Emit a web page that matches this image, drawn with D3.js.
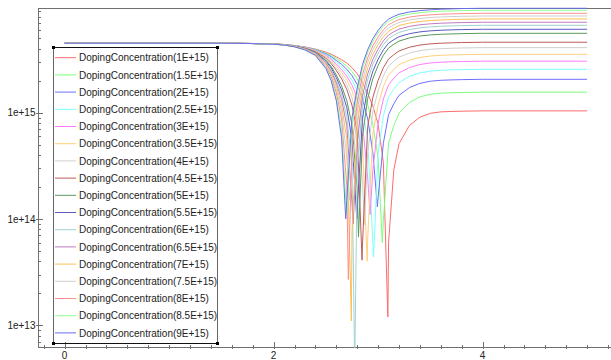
<!DOCTYPE html>
<html><head><meta charset="utf-8">
<script src="https://cdn.jsdelivr.net/npm/d3@7/dist/d3.min.js"></script>
<style>
body{margin:0;background:#fff;overflow:hidden}
svg{display:block}
text{font-family:"Liberation Sans",Arial,sans-serif;font-size:10px;fill:#222}
</style>
</head><body>
<svg id="chart" width="611" height="360"></svg>
<script>
// ---------- data (values in units of 1e15) ----------
const seriesLabels = [
  "DopingConcentration(1E+15)","DopingConcentration(1.5E+15)","DopingConcentration(2E+15)",
  "DopingConcentration(2.5E+15)","DopingConcentration(3E+15)","DopingConcentration(3.5E+15)",
  "DopingConcentration(4E+15)","DopingConcentration(4.5E+15)","DopingConcentration(5E+15)",
  "DopingConcentration(5.5E+15)","DopingConcentration(6E+15)","DopingConcentration(6.5E+15)",
  "DopingConcentration(7E+15)","DopingConcentration(7.5E+15)","DopingConcentration(8E+15)",
  "DopingConcentration(8.5E+15)","DopingConcentration(9E+15)"
];
const xGrid = [0,1.5,1.8,2.0,2.1,2.2,2.3,2.4,2.5,2.55,2.6,2.65,2.7,2.75,2.8,2.85,2.9,2.95,3.0,3.05,3.1,3.15,3.2,3.3,3.4,3.5,3.6,3.7,3.8,4.0,5.0];
const dop1E15   = [4.5,4.5,4.477,4.429,4.381,4.283,4.154,3.965,3.712,3.548,3.350,3.153,2.933,2.651,2.324,1.920,1.522,1.146,0.781,0.341,0.060,0.289,0.512,0.759,0.908,0.986,1.018,1.026,1.033,1.04,1.04];
const dop1_5E15 = [4.5,4.5,4.476,4.428,4.378,4.276,4.138,3.934,3.645,3.454,3.226,2.997,2.746,2.435,2.079,1.632,1.192,0.775,0.373,0.095,0.518,0.759,0.993,1.251,1.408,1.491,1.527,1.540,1.549,1.56,1.56];
const dop2E15   = [4.5,4.5,4.476,4.426,4.375,4.269,4.123,3.904,3.580,3.364,3.106,2.847,2.566,2.228,1.844,1.354,0.874,0.417,0.16,0.515,0.958,1.212,1.456,1.724,1.888,1.976,2.017,2.033,2.046,2.06,2.06];
const dop2_5E15 = [4.5,4.5,4.475,4.425,4.372,4.262,4.108,3.874,3.515,3.274,2.986,2.697,2.386,2.020,1.609,1.077,0.557,0.06,0.412,0.935,1.398,1.664,1.918,2.197,2.368,2.461,2.506,2.527,2.542,2.56,2.56];
const dop3E15   = [4.5,4.5,4.475,4.423,4.369,4.255,4.094,3.845,3.451,3.186,2.868,2.550,2.210,1.817,1.379,0.805,0.246,0.291,0.797,1.347,1.829,2.108,2.371,2.660,2.838,2.936,2.986,3.010,3.029,3.05,3.05];
const dop3_5E15 = [4.5,4.5,4.475,4.422,4.366,4.248,4.079,3.815,3.387,3.098,2.750,2.403,2.033,1.613,1.149,0.533,0.065,0.641,1.181,1.759,2.260,2.551,2.825,3.124,3.308,3.411,3.466,3.494,3.515,3.54,3.54];
const dop4E15   = [4.5,4.5,4.474,4.420,4.363,4.240,4.062,3.782,3.316,2.999,2.618,2.238,1.835,1.385,0.890,0.228,0.415,1.034,1.613,2.221,2.744,3.049,3.333,3.644,3.836,3.945,4.004,4.037,4.061,4.09,4.09];
const dop4_5E15 = [4.5,4.5,4.473,4.419,4.360,4.233,4.047,3.752,3.250,2.907,2.496,2.085,1.652,1.174,0.651,0.056,0.739,1.399,2.014,2.649,3.193,3.511,3.805,4.127,4.326,4.440,4.503,4.540,4.568,4.6,4.6];
const dop5E15   = [4.5,4.5,4.472,4.416,4.354,4.219,4.018,3.693,3.122,2.731,2.261,1.791,1.299,0.767,0.190,0.599,1.361,2.100,2.783,3.472,4.055,4.397,4.712,5.054,5.267,5.390,5.463,5.508,5.541,5.58,5.58];
const dop5_5E15 = [4.5,4.5,4.472,4.414,4.351,4.212,4.002,3.662,3.056,2.639,2.138,1.638,1.115,0.555,0.12,0.883,1.685,2.464,3.183,3.901,4.504,4.859,5.183,5.536,5.756,5.885,5.962,6.011,6.047,6.09,6.09];
const dop6E15   = [4.5,4.5,4.471,4.413,4.348,4.205,3.986,3.629,2.984,2.540,2.006,1.473,0.917,0.327,0.308,1.188,2.034,2.858,3.615,4.363,4.988,5.357,5.692,6.056,6.284,6.418,6.501,6.554,6.594,6.64,6.64];
const dop6_5E15 = [4.5,4.5,4.471,4.411,4.345,4.198,3.972,3.602,2.926,2.459,1.898,1.338,0.755,0.140,0.520,1.438,2.320,3.179,3.968,4.741,5.384,5.764,6.108,6.482,6.716,6.855,6.941,6.998,7.040,7.09,7.09];
const dop7E15   = [4.5,4.5,4.470,4.410,4.342,4.191,3.957,3.571,2.858,2.365,1.774,1.182,0.568,0.076,0.764,1.726,2.650,3.551,4.376,5.177,5.842,6.235,6.589,6.974,7.216,7.359,7.450,7.511,7.557,7.61,7.61];
const dop7_5E15 = [4.5,4.5,4.470,4.408,4.339,4.184,3.941,3.540,2.792,2.273,1.651,1.029,0.384,0.287,1.004,2.009,2.974,3.916,4.777,5.606,6.291,6.696,7.061,7.457,7.705,7.854,7.950,8.014,8.063,8.12,8.12];
const dop8E15   = [4.5,4.5,4.469,4.407,4.336,4.177,3.927,3.511,2.728,2.185,1.534,0.882,0.208,0.491,1.234,2.281,3.285,4.266,5.161,6.017,6.722,7.140,7.514,7.920,8.176,8.329,8.429,8.498,8.550,8.61,8.61];
const dop8_5E15 = [4.5,4.5,4.469,4.405,4.332,4.169,3.909,3.476,2.653,2.081,1.394,0.708,0.11,0.731,1.507,2.603,3.653,4.681,5.617,6.505,7.232,7.665,8.051,8.469,8.732,8.892,8.997,9.071,9.126,9.19,9.19];
const dop9E15   = [4.5,4.5,4.468,4.404,4.330,4.163,3.897,3.452,2.600,2.007,1.296,0.585,0.149,0.902,1.700,2.831,3.914,4.974,5.939,6.849,7.593,8.036,8.430,8.857,9.126,9.290,9.398,9.475,9.533,9.6,9.6];
// junction dip of each curve (x position, minimum value)
const dipX = [3.093,3.04,2.993,2.956,2.923,2.895,2.868,2.846,2.812,2.796,2.776,2.761,2.744,2.729,2.715,2.70,2.69];
const dipV = [0.012,0.06,0.13,0.044,0.11,0.04,0.088,0.041,0.068,0.10,0.004,0.09,0.011,0.15,0.027,0.11,0.10];
const valueUnit = 1e15;
const xTickValues = [0,2,4];
const xTickLabels = ["0","2","4"];
const yTickValues = [1e13,1e14,1e15];
const yTickLabels = ["1e+13","1e+14","1e+15"];
const seriesColors = ["#ff6a6a","#7cff7c","#6f6fff","#7cffff","#ff7cff","#ffcf7c","#cfcfcf","#c05a5a","#5a9a5a","#5a5ac0","#9fd3d3","#c07cc0","#ffbf55","#cfcfcf","#ff8f8f","#8fff8f","#6c6cf0"];

const seriesValues = [dop1E15,dop1_5E15,dop2E15,dop2_5E15,dop3E15,dop3_5E15,dop4E15,dop4_5E15,dop5E15,dop5_5E15,dop6E15,dop6_5E15,dop7E15,dop7_5E15,dop8E15,dop8_5E15,dop9E15];

// ---------- drawing ----------
const svg = d3.select("#chart");
const x = d3.scaleLinear().domain([-0.25,5.25]).range([38.5,613.25]);
const y = d3.scaleLog().domain([6.18e12,9.55e15]).range([347.5,8.5]);
const axisColor = "#707070";

// frame
svg.append("line").attr("x1",38.5).attr("x2",611).attr("y1",8.5).attr("y2",8.5).attr("stroke",axisColor);
svg.append("line").attr("x1",38.5).attr("x2",38.5).attr("y1",8).attr("y2",347.5).attr("stroke",axisColor);
svg.append("line").attr("x1",38).attr("x2",611).attr("y1",347.5).attr("y2",347.5).attr("stroke",axisColor);

// x ticks
const xMinor = d3.range(-1,27).map(i => +(i*0.2).toFixed(1)).filter(v => v > -0.25 && v < 5.25 && !xTickValues.includes(v));
svg.append("g").selectAll("line").data(xMinor).join("line")
  .attr("x1",d=>Math.round(x(d))+0.5).attr("x2",d=>Math.round(x(d))+0.5)
  .attr("y1",345).attr("y2",349).attr("stroke",axisColor);
svg.append("g").selectAll("line").data(xTickValues).join("line")
  .attr("x1",d=>Math.round(x(d))+0.5).attr("x2",d=>Math.round(x(d))+0.5)
  .attr("y1",342).attr("y2",349).attr("stroke",axisColor);
svg.append("g").selectAll("text").data(xTickValues).join("text")
  .attr("x",d=>x(d)).attr("y",358.5).attr("text-anchor","middle")
  .text((d,i)=>xTickLabels[i]);

// y ticks
const yMinor = [];
[12,13,14,15].forEach(e => { for (let m=2;m<=9;m++){ const v=m*Math.pow(10,e); if (v>6.18e12 && v<9.55e15) yMinor.push(v);} });
svg.append("g").selectAll("line").data(yMinor).join("line")
  .attr("x1",38).attr("x2",41).attr("y1",d=>Math.round(y(d))+0.5).attr("y2",d=>Math.round(y(d))+0.5).attr("stroke",axisColor);
svg.append("g").selectAll("line").data(yTickValues).join("line")
  .attr("x1",36).attr("x2",43).attr("y1",d=>Math.round(y(d))+0.5).attr("y2",d=>Math.round(y(d))+0.5).attr("stroke",axisColor);
svg.append("g").selectAll("text").data(yTickValues).join("text")
  .attr("x",35.5).attr("y",d=>y(d)+3.6).attr("text-anchor","end")
  .text((d,i)=>yTickLabels[i]);

// curves
svg.append("clipPath").attr("id","clip").append("rect").attr("x",38.5).attr("y",0).attr("width",575).attr("height",347.5);
const line = d3.line().x(d=>x(d[0])).y(d=>y(d[1]));
const plot = svg.append("g").attr("clip-path","url(#clip)");
seriesValues.forEach((vals,i) => {
  const pts = xGrid.map((xv,j)=>[xv, vals[j]*valueUnit]);
  pts.push([dipX[i], dipV[i]*valueUnit]);
  pts.sort((a,b)=>a[0]-b[0]);
  plot.append("path").attr("d",line(pts)).attr("fill","none")
    .attr("stroke",seriesColors[i]).attr("stroke-width",1);
});

// legend
const lg = svg.append("g");
lg.append("line").attr("x1",53.5).attr("x2",53.5).attr("y1",47.5).attr("y2",343.5).attr("stroke","#666");
lg.append("line").attr("x1",217.5).attr("x2",217.5).attr("y1",47.5).attr("y2",343.5).attr("stroke","#666");
lg.append("line").attr("x1",53.5).attr("x2",217.5).attr("y1",47.5).attr("y2",47.5).attr("stroke","#111");
lg.append("line").attr("x1",53.5).attr("x2",217.5).attr("y1",343.5).attr("y2",343.5).attr("stroke","#111");
[[53.5,47.5],[217.5,47.5],[53.5,343.5],[217.5,343.5]].forEach(c=>{
  lg.append("rect").attr("x",c[0]-1.5).attr("y",c[1]-1.5).attr("width",3).attr("height",3).attr("fill","#000");
});
seriesLabels.forEach((lab,i)=>{
  const yy = 57.7 + 17.2*i;
  lg.append("line").attr("x1",55).attr("x2",76).attr("y1",yy).attr("y2",yy).attr("stroke",seriesColors[i]);
  lg.append("text").attr("x",79).attr("y",yy+3.6).text(lab);
});
</script>
</body></html>
